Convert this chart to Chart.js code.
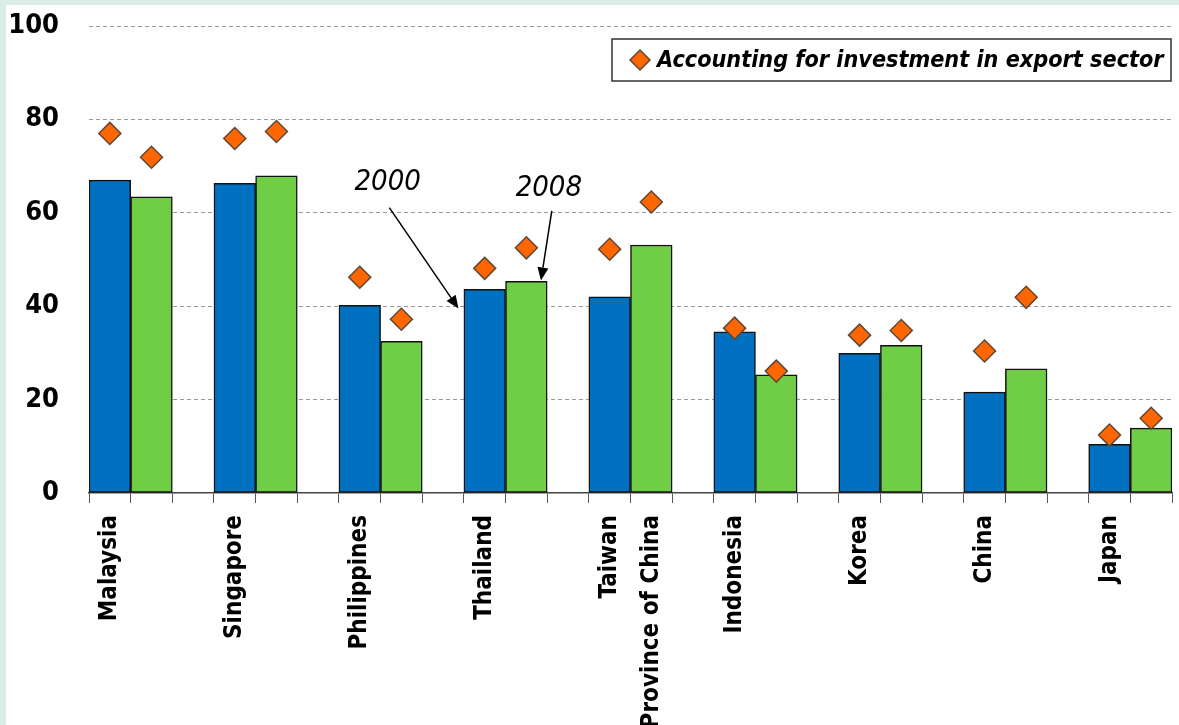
<!DOCTYPE html>
<html>
<head>
<meta charset="utf-8">
<script src="https://cdn.jsdelivr.net/npm/chart.js@4.4.1/dist/chart.umd.min.js"></script>
<style>
html, body { margin: 0; padding: 0; width: 1179px; height: 725px; overflow: hidden; background: #dbeee6; }
#wrap { position: absolute; left: 6px; top: 5px; width: 1173px; height: 720px; background: #fff; }
</style>
</head>
<body>
<div id="wrap"><canvas id="chart"></canvas></div>
<script>
const countries = ['Malaysia', 'Singapore', 'Philippines', 'Thailand', ['Taiwan', 'Province of China'],
  'Indonesia', 'Korea', 'China', 'Japan'];
const share2000 = [67.0, 66.3, 40.2, 43.6, 42.0, 34.5, 29.9, 21.6, 10.4];
const share2008 = [63.4, 67.9, 32.5, 45.3, 53.1, 25.3, 31.6, 26.6, 13.9];
const export2000 = [77.0, 75.9, 46.2, 48.1, 52.2, 35.3, 33.8, 30.4, 12.4];
const export2008 = [71.9, 77.4, 37.2, 52.5, 62.3, 26.1, 34.8, 41.9, 16.0];
const yTicks = [0, 20, 40, 60, 80, 100];

const FONT = '"DejaVu Sans Condensed", "Liberation Sans Narrow", sans-serif';

// each country takes 3 slots: 2000 bar, 2008 bar, gap (last one has no gap)
const slotLabels = [];
const blue = [], green = [], diamonds = [];
countries.forEach((c, i) => {
  slotLabels.push(c, '');
  blue.push(share2000[i], null);
  green.push(null, share2008[i]);
  diamonds.push(export2000[i], export2008[i]);
  if (i < countries.length - 1) {
    slotLabels.push('');
    blue.push(null); green.push(null); diamonds.push(null);
  }
});

// arrows + year labels, in data units (x = slot index)
const notes = [
  { text: '2000', at: [6.67, 66.4], from: [6.71, 61.1], to: [8.37, 39.5] },
  { text: '2008', at: [10.54, 65.3], from: [10.61, 60.4], to: [10.35, 45.5] }
];

const annotate = {
  id: 'annotate',
  afterDatasetsDraw(chart) {
    const { ctx, scales: { x, y } } = chart;
    ctx.save();
    ctx.fillStyle = '#000';
    ctx.strokeStyle = '#000';
    ctx.lineWidth = 1.5;
    ctx.font = 'italic 29px ' + FONT;
    ctx.textAlign = 'center';
    ctx.textBaseline = 'middle';
    notes.forEach(n => {
      ctx.fillText(n.text, x.getPixelForValue(n.at[0]), y.getPixelForValue(n.at[1]));
      const x0 = x.getPixelForValue(n.from[0]), y0 = y.getPixelForValue(n.from[1]);
      const x1 = x.getPixelForValue(n.to[0]), y1 = y.getPixelForValue(n.to[1]);
      const a = Math.atan2(y1 - y0, x1 - x0);
      const len = 13, half = 5.5;
      const bx = x1 - len * Math.cos(a), by = y1 - len * Math.sin(a);
      ctx.beginPath();
      ctx.moveTo(x0, y0);
      ctx.lineTo(bx, by);
      ctx.stroke();
      ctx.beginPath();
      ctx.moveTo(x1, y1);
      ctx.lineTo(bx - half * Math.sin(a), by + half * Math.cos(a));
      ctx.lineTo(bx + half * Math.sin(a), by - half * Math.cos(a));
      ctx.closePath();
      ctx.fill();
    });
    ctx.restore();
  }
};

// boxed legend sitting inside the plot area
const boxLegend = {
  id: 'boxLegend',
  afterDraw(chart) {
    const { ctx, chartArea } = chart;
    const ds = chart.data.datasets[2];
    const right = chartArea.right - 1, top = chartArea.top + 13;
    const w = 559, h = 42;
    ctx.save();
    ctx.fillStyle = '#fff';
    ctx.fillRect(right - w, top, w, h);
    ctx.strokeStyle = '#333';
    ctx.lineWidth = 1.5;
    ctx.strokeRect(right - w, top, w, h);
    const cx = right - w + 28, cy = top + h / 2;
    const r = 10;
    ctx.beginPath();
    ctx.moveTo(cx - r, cy); ctx.lineTo(cx, cy - r); ctx.lineTo(cx + r, cy); ctx.lineTo(cx, cy + r);
    ctx.closePath();
    ctx.fillStyle = ds.backgroundColor;
    ctx.fill();
    ctx.strokeStyle = ds.borderColor;
    ctx.lineWidth = 1.5;
    ctx.stroke();
    // fit the text into the box width
    ctx.font = 'italic bold 28px ' + FONT;
    const avail = w - 45 - 8;
    const size = Math.min(28, 28 * avail / ctx.measureText(ds.label).width);
    ctx.font = 'italic bold ' + size.toFixed(1) + 'px ' + FONT;
    ctx.fillStyle = '#000';
    ctx.textBaseline = 'middle';
    ctx.fillText(ds.label, cx + 17, cy + 1);
    ctx.restore();
  }
};

new Chart(document.getElementById('chart'), {
  type: 'bar',
  data: {
    labels: slotLabels,
    datasets: [
      { label: '2000', data: blue, backgroundColor: '#0070c0', borderColor: '#111', borderWidth: 1.5, borderSkipped: false, order: 2 },
      { label: '2008', data: green, backgroundColor: '#6fce45', borderColor: '#111', borderWidth: 1.5, borderSkipped: false, order: 2 },
      {
        type: 'line', label: 'Accounting for investment in export sector', data: diamonds,
        showLine: false, pointStyle: 'rectRot', pointRadius: 11, pointHoverRadius: 11,
        backgroundColor: '#ff6600', borderColor: '#5e4838', borderWidth: 1.5, order: 1
      }
    ]
  },
  options: {
    responsive: true,
    maintainAspectRatio: false,
    animation: false,
    layout: { autoPadding: false, padding: { top: 21, right: 7, bottom: 0, left: 0 } },
    datasets: { bar: { grouped: false, barPercentage: 1, categoryPercentage: 1 } },
    plugins: { legend: { display: false }, tooltip: { enabled: false } },
    scales: {
      x: {
        offset: true,
        grid: { offset: true, drawOnChartArea: false, drawTicks: true, tickLength: 10, color: '#555', lineWidth: 1 },
        border: { display: true, color: '#444', width: 1.5 },
        ticks: { autoSkip: false, minRotation: 90, maxRotation: 90, padding: 12, color: '#000',
          font: { family: FONT, size: 24, weight: 'bold', lineHeight: 1.75 } },
        afterFit: s => { s.height = 232; s.paddingLeft = 0; s.paddingRight = 0; }
      },
      y: {
        min: 0, max: 100,
        afterBuildTicks: s => { s.ticks = yTicks.map(v => ({ value: v })); },
        grid: { drawTicks: false, color: c => c.tick && c.tick.value === 0 ? 'rgba(0,0,0,0)' : '#999', lineWidth: 1 },
        border: { display: false, dash: [4, 3] },
        ticks: { padding: 30, color: '#000', font: { family: FONT, size: 27, weight: 'bold' } },
        afterFit: s => { s.width = 83; s.paddingTop = 0; s.paddingBottom = 0; }
      }
    }
  },
  plugins: [annotate, boxLegend]
});
</script>
</body>
</html>
